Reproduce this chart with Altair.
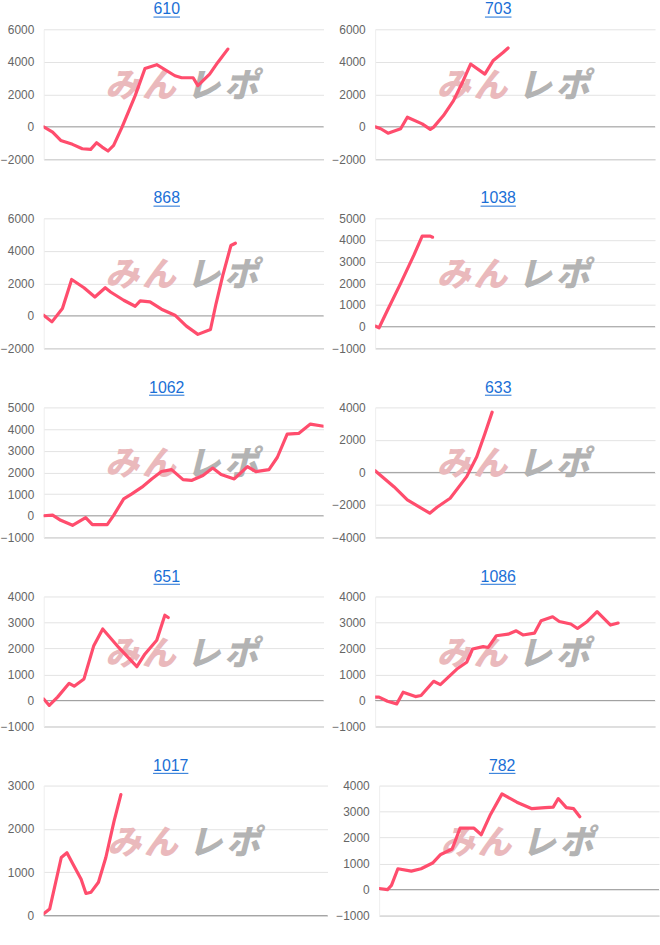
import altair as alt
import pandas as pd

TITLES = ["610", "703", "868", "1038", "1062", "633", "651", "1086", "1017", "782"]

X_610 = [0, 3.2, 6.1, 10.3, 13.8, 16.8, 18.9, 20.9, 23.0, 25.0, 28.0, 32.7, 36.2, 40.4, 46.9, 49.3, 53.4, 55.1, 59.3, 62.2, 65.8]
Y_610 = [0, -330, -840, -1080, -1350, -1390, -980, -1250, -1490, -1140, -20, 1920, 3590, 3820, 3140, 3020, 3020, 2530, 3240, 3960, 4780]

X_703 = [0, 2.0, 4.6, 9.1, 11.5, 16.8, 19.7, 20.9, 24.4, 28.0, 30.9, 34.1, 39.2, 42.1, 45.7, 47.5]
Y_703 = [0, -120, -390, -120, 590, 180, -160, -20, 690, 1610, 2630, 3860, 3240, 4060, 4570, 4850]

X_868 = [0, 2.95, 6.7, 10.0, 14.4, 18.3, 22.0, 23.9, 28.6, 32.7, 34.5, 38.0, 42.1, 46.9, 51.0, 55.1, 59.6, 61.6, 64.0, 66.9, 68.5]
Y_868 = [40, -370, 450, 2240, 1730, 1160, 1730, 1470, 960, 590, 920, 860, 410, 40, -630, -1140, -840, 760, 2490, 4330, 4470]

X_1038 = [0, 1.4, 4.4, 9.1, 13.8, 16.8, 19.7, 20.5]
Y_1038 = [30, -50, 760, 2000, 3290, 4180, 4180, 4130]

X_1062 = [0, 3.2, 6.1, 10.3, 15.0, 17.4, 22.7, 25.0, 28.6, 31.5, 35.1, 38.6, 42.1, 45.7, 49.8, 52.8, 56.9, 60.4, 63.4, 68.1, 72.8, 75.8, 80.5, 83.5, 87.0, 91.1, 95.3, 100]
Y_1062 = [0, 30, -210, -440, -90, -410, -410, 20, 780, 1010, 1320, 1700, 2040, 2130, 1670, 1630, 1860, 2200, 1900, 1700, 2270, 2040, 2130, 2700, 3770, 3800, 4230, 4130]

X_633 = [0, 6.7, 11.5, 19.5, 22.1, 26.8, 32.7, 36.3, 39.2, 41.8]
Y_633 = [100, -880, -1690, -2510, -2140, -1590, -260, 960, 2380, 3710]

X_651 = [0, 2.0, 4.96, 9.1, 10.9, 14.4, 17.9, 21.1, 26.8, 33.3, 36.2, 40.4, 43.3, 44.5]
Y_651 = [60, -190, 130, 660, 550, 830, 2110, 2750, 2040, 1300, 1790, 2320, 3280, 3190]

X_1086 = [0, 1.4, 4.4, 7.7, 10.0, 14.4, 16.4, 20.9, 23.3, 29.2, 32.7, 34.8, 38.6, 40.4, 43.3, 47.5, 50.4, 52.8, 56.9, 59.3, 63.4, 65.8, 69.9, 72.3, 75.8, 79.3, 84.1, 86.8]
Y_1086 = [130, 130, -30, -130, 320, 150, 190, 740, 610, 1210, 1470, 1980, 2070, 2040, 2490, 2550, 2680, 2520, 2590, 3070, 3220, 3040, 2940, 2770, 3040, 3420, 2900, 2980]

X_1017 = [0, 2.1, 6.2, 8.2, 10.3, 13.2, 14.9, 16.7, 19.3, 21.9, 24.8, 27.2]
Y_1017 = [40, 150, 1340, 1450, 1190, 840, 510, 540, 770, 1340, 2180, 2790]

X_782 = [0, 3.0, 4.4, 6.7, 11.5, 15.0, 19.1, 22.0, 26.1, 28.9, 33.9, 36.5, 39.8, 43.9, 49.2, 54.6, 59.3, 62.2, 64.0, 66.9, 69.5, 71.7]
Y_782 = [40, 0, 160, 800, 710, 800, 1020, 1350, 1560, 2360, 2360, 2110, 2890, 3680, 3360, 3110, 3150, 3170, 3500, 3150, 3110, 2800]

SERIES = [(X_610, Y_610), (X_703, Y_703), (X_868, Y_868), (X_1038, Y_1038), (X_1062, Y_1062),
          (X_633, Y_633), (X_651, Y_651), (X_1086, Y_1086), (X_1017, Y_1017), (X_782, Y_782)]

Y_MIN = [-2000, -2000, -2000, -1000, -1000, -4000, -1000, -1000, 0, -1000]
Y_MAX = [6000, 6000, 6000, 5000, 5000, 4000, 4000, 4000, 3000, 4000]
Y_STEP = [2000, 2000, 2000, 1000, 1000, 2000, 1000, 1000, 1000, 1000]

WATERMARK_CHARS = ["み", "ん", "レ", "ポ"]
WATERMARK_COLORS = ["#eab9bc", "#eab9bc", "#b3b3b3", "#b3b3b3"]
WATERMARK_OFFSETS = [-62, -25, 20, 58]  # relative to plot centre

LINE_COLOR = "#ff4d6d"
TITLE_COLOR = "#1a6fd6"
FONT = "Liberation Sans"
PANEL_W = 330
PLOT_H = 131


def label_width(v):
    s = str(v)
    return sum(4.0 if c == "-" else 6.67 for c in s)


def panel(i):
    xs, ys = SERIES[i]
    ymin, ymax, step = Y_MIN[i], Y_MAX[i], Y_STEP[i]
    ticks = list(range(ymin, ymax + 1, step))
    axis_w = max(label_width(t) for t in ticks) + 10.3
    plot_left = round(axis_w)
    w = 323 - plot_left
    df = pd.DataFrame({"x": xs, "y": ys})
    xsc = alt.Scale(domain=[0, 100], nice=False, zero=False)
    ysc = alt.Scale(domain=[ymin, ymax], nice=False, zero=False)

    yaxis = alt.Axis(values=ticks, grid=True, gridColor="#e3e3e3", domain=True, domainColor="#eeeeee",
                     ticks=False, labelPadding=10, labelFont=FONT, labelFontSize=12, labelColor="#666666",
                     labelOverlap=False, labelFlush=False, labelBound=False,
                     title=None, format="d")
    xaxis = alt.Axis(labels=False, ticks=False, grid=False, domain=True, domainColor="#cccccc", title=None)

    one = pd.DataFrame({"a": [0]})
    cx = PANEL_W / 2 - plot_left
    tw = len(TITLES[i]) * 8.9

    marks = []
    zero = alt.Chart(pd.DataFrame({"z": [0]})).mark_rule(color="#a0a0a0", strokeWidth=1).encode(
        y=alt.Y("z:Q", scale=ysc, axis=yaxis))
    marks.append(zero)
    for ch, col, off in zip(WATERMARK_CHARS, WATERMARK_COLORS, WATERMARK_OFFSETS):
        marks.append(alt.Chart(one).mark_text(text=ch, font="Noto Sans CJK JP", fontSize=34, fontWeight=900,
                                              fontStyle="italic", color=col, align="center",
                                              baseline="middle").encode(
            x=alt.value(w / 2 + off), y=alt.value(PLOT_H * 0.447)))
    line = alt.Chart(df).mark_line(color=LINE_COLOR, strokeWidth=3.2, strokeCap="round", strokeJoin="round",
                                   clip=True).encode(
        x=alt.X("x:Q", scale=xsc, axis=xaxis),
        y=alt.Y("y:Q", scale=ysc, axis=yaxis))
    marks.append(line)
    ttl = alt.Chart(one).mark_text(text=TITLES[i], font=FONT, fontSize=16, color=TITLE_COLOR,
                                   align="center", baseline="alphabetic").encode(
        x=alt.value(cx), y=alt.value(-15))
    ul = alt.Chart(one).mark_rule(color=TITLE_COLOR, strokeWidth=1).encode(
        x=alt.value(cx - tw / 2), x2=alt.value(cx + tw / 2), y=alt.value(-12.3))
    marks += [ttl, ul]

    return alt.layer(*marks).properties(width=w, height=PLOT_H)


rows = []
for r in range(5):
    rows.append(alt.hconcat(panel(2 * r), panel(2 * r + 1), spacing=7))

chart = alt.vconcat(*rows, spacing=25.5).properties(
    padding={"left": 0, "top": -2, "right": 0, "bottom": 0}
).configure_view(stroke=None).resolve_scale(y="independent")

chart.save("out.html", embed_options={"renderer": "svg", "actions": False})
